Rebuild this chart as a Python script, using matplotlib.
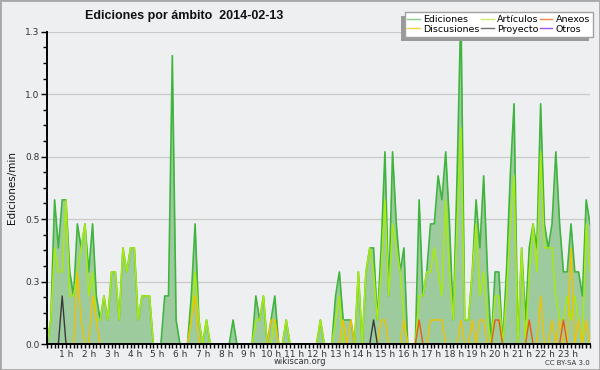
import numpy as np
import matplotlib
matplotlib.use("Agg")
import matplotlib.pyplot as plt
from matplotlib.lines import Line2D
from matplotlib.patches import Rectangle
import matplotlib.transforms as mtransforms

# ---- data: edits per minute, 10-minute bins over the day (2014-02-13) ----
minutes = np.arange(144) * 10

ediciones = [
    0.0, 0.1, 0.6, 0.4, 0.6, 0.6, 0.3, 0.2, 0.5, 0.4, 0.5, 0.3,
    0.5, 0.2, 0.1, 0.2, 0.1, 0.3, 0.3, 0.1, 0.4, 0.3, 0.4, 0.4,
    0.1, 0.2, 0.2, 0.2, 0.0, 0.0, 0.0, 0.2, 0.2, 1.2, 0.1, 0.0,
    0.0, 0.0, 0.2, 0.5, 0.1, 0.0, 0.1, 0.0, 0.0, 0.0, 0.0, 0.0,
    0.0, 0.1, 0.0, 0.0, 0.0, 0.0, 0.0, 0.2, 0.1, 0.2, 0.0, 0.1,
    0.2, 0.0, 0.0, 0.1, 0.0, 0.0, 0.0, 0.0, 0.0, 0.0, 0.0, 0.0,
    0.1, 0.0, 0.0, 0.0, 0.2, 0.3, 0.1, 0.1, 0.1, 0.0, 0.3, 0.0,
    0.3, 0.4, 0.4, 0.1, 0.4, 0.8, 0.2, 0.8, 0.5, 0.3, 0.4, 0.0,
    0.0, 0.0, 0.6, 0.2, 0.3, 0.5, 0.5, 0.7, 0.6, 0.8, 0.5, 0.1,
    0.7, 1.4, 0.1, 0.1, 0.3, 0.6, 0.4, 0.7, 0.3, 0.0, 0.3, 0.3,
    0.0, 0.3, 0.7, 1.0, 0.0, 0.4, 0.1, 0.4, 0.5, 0.4, 1.0, 0.5,
    0.4, 0.5, 0.8, 0.5, 0.3, 0.3, 0.5, 0.3, 0.3, 0.2, 0.6, 0.5,
]

articulos = [
    0.0, 0.1, 0.4, 0.3, 0.3, 0.6, 0.2, 0.2, 0.3, 0.4, 0.5, 0.2,
    0.3, 0.1, 0.1, 0.2, 0.1, 0.3, 0.3, 0.1, 0.4, 0.3, 0.4, 0.4,
    0.1, 0.2, 0.2, 0.2, 0.0, 0.0, 0.0, 0.0, 0.0, 0.0, 0.0, 0.0,
    0.0, 0.0, 0.1, 0.3, 0.1, 0.0, 0.1, 0.0, 0.0, 0.0, 0.0, 0.0,
    0.0, 0.0, 0.0, 0.0, 0.0, 0.0, 0.0, 0.1, 0.1, 0.2, 0.0, 0.0,
    0.1, 0.0, 0.0, 0.1, 0.0, 0.0, 0.0, 0.0, 0.0, 0.0, 0.0, 0.0,
    0.1, 0.0, 0.0, 0.0, 0.1, 0.2, 0.0, 0.0, 0.0, 0.0, 0.3, 0.0,
    0.3, 0.4, 0.3, 0.1, 0.3, 0.6, 0.2, 0.5, 0.4, 0.3, 0.1, 0.0,
    0.0, 0.0, 0.2, 0.2, 0.3, 0.3, 0.4, 0.3, 0.2, 0.6, 0.3, 0.1,
    0.5, 0.9, 0.1, 0.1, 0.3, 0.5, 0.2, 0.3, 0.1, 0.0, 0.2, 0.2,
    0.0, 0.2, 0.5, 0.7, 0.0, 0.4, 0.0, 0.3, 0.5, 0.3, 0.8, 0.4,
    0.4, 0.4, 0.2, 0.1, 0.1, 0.2, 0.1, 0.2, 0.1, 0.0, 0.5, 0.3,
]

discusiones = [
    0.0, 0.0, 0.0, 0.0, 0.0, 0.0, 0.0, 0.0, 0.3, 0.1, 0.0, 0.0,
    0.2, 0.1, 0.0, 0.0, 0.0, 0.0, 0.0, 0.0, 0.0, 0.0, 0.0, 0.0,
    0.0, 0.0, 0.0, 0.0, 0.0, 0.0, 0.0, 0.0, 0.0, 0.0, 0.0, 0.0,
    0.0, 0.0, 0.1, 0.2, 0.0, 0.0, 0.0, 0.0, 0.0, 0.0, 0.0, 0.0,
    0.0, 0.0, 0.0, 0.0, 0.0, 0.0, 0.0, 0.0, 0.0, 0.0, 0.0, 0.1,
    0.1, 0.0, 0.0, 0.0, 0.0, 0.0, 0.0, 0.0, 0.0, 0.0, 0.0, 0.0,
    0.0, 0.0, 0.0, 0.0, 0.0, 0.0, 0.1, 0.0, 0.1, 0.0, 0.0, 0.0,
    0.0, 0.0, 0.0, 0.0, 0.1, 0.1, 0.0, 0.0, 0.0, 0.0, 0.1, 0.0,
    0.0, 0.0, 0.0, 0.0, 0.0, 0.1, 0.1, 0.1, 0.1, 0.0, 0.0, 0.0,
    0.0, 0.1, 0.0, 0.0, 0.1, 0.0, 0.1, 0.1, 0.0, 0.0, 0.0, 0.0,
    0.0, 0.0, 0.0, 0.0, 0.0, 0.0, 0.0, 0.0, 0.0, 0.0, 0.2, 0.0,
    0.0, 0.1, 0.0, 0.1, 0.0, 0.0, 0.4, 0.0, 0.1, 0.0, 0.1, 0.0,
]

anexos = [0.0] * 98 + [0.1] + [0.0] * 19 + [0.1, 0.1] + [0.0] * 7 + [0.1] + [0.0] * 8 + [0.1] + [0.0] * 7
proyecto = [0.0] * 4 + [0.2] + [0.0] * 81 + [0.1] + [0.0] * 57
otros = [0.0] * 144

hour_labels = [f"{h} h" for h in range(1, 24)]
y_ticks = [0.0, 0.26, 0.52, 0.78, 1.04, 1.3]
y_tick_labels = ["0.0", "0.3", "0.5", "0.8", "1.0", "1.3"]

legend_names = ["Ediciones", "Discusiones", "Artículos", "Proyecto", "Anexos", "Otros"]

# ---- figure ----
BG = "#eeeff1"
fig = plt.figure(figsize=(6.0, 3.7), dpi=100, facecolor=BG)
fig.patches.append(Rectangle((0, 0), 1, 1, transform=fig.transFigure,
                             facecolor="none", edgecolor="#a8a8a8", lw=2.0))

ax = fig.add_axes([47 / 600, 26 / 370, 543 / 600, 312.3 / 370])
ax.set_facecolor(BG)

ax.fill_between(minutes, ediciones, 0, color="#9ecb9e", lw=0, zorder=2)
ax.plot(minutes, ediciones, color="#3fb43f", lw=1.2, zorder=3)
ax.plot(minutes, articulos, color="#a6ea12", lw=1.1, zorder=4)
ax.plot(minutes, discusiones, color="#f2c200", lw=1.0, zorder=5)
ax.plot(minutes, anexos, color="#ec5a14", lw=1.0, zorder=6)
ax.plot(minutes, proyecto, color="#3a3a3a", lw=1.0, zorder=6)
ax.plot(minutes, otros, color="#8a44e8", lw=1.0, zorder=6)

ax.set_xlim(0, 1430)
ax.set_ylim(0, 1.3)

for s in ["top", "right"]:
    ax.spines[s].set_visible(False)
for s in ["left", "bottom"]:
    ax.spines[s].set_color("black")
    ax.spines[s].set_linewidth(1.4)
    ax.spines[s].set_zorder(10)

ax.set_yticks(y_ticks)
ax.set_yticklabels(y_tick_labels)
ax.set_yticks(np.arange(0, 1.3001, 0.065), minor=True)
ax.set_xticks(np.arange(60, 1440, 60))
ax.set_xticklabels(hour_labels)
ax.set_xticks(np.arange(0, 1431, 10), minor=True)

ax.tick_params(axis="both", which="major", length=4, width=1, color="black",
               labelsize=6.5, labelcolor="#333333", pad=1.5)
ax.tick_params(axis="both", which="minor", length=3, width=1, color="black")
ax.tick_params(axis="x", which="major", length=3, pad=1)

offset = mtransforms.ScaledTranslation(-0.035, 0, fig.dpi_scale_trans)
for lbl in ax.get_xticklabels():
    lbl.set_transform(lbl.get_transform() + offset)

ax.yaxis.grid(True, which="major", color="#c9c9c9", lw=0.9, zorder=1)
ax.set_axisbelow(True)

# texts
fig.text(85 / 600, 1 - 16 / 370, "Ediciones por ámbito  2014-02-13",
         fontsize=9, fontweight="bold", family="Liberation Sans",
         ha="left", va="center", color="#111111")
fig.text(12 / 600, 1 - 188 / 370, "Ediciones/min", rotation=90,
         fontsize=7.5, ha="center", va="center", color="#111111")
fig.text(300 / 600, 1 - 362 / 370, "wikiscan.org", fontsize=6,
         ha="center", va="center", color="#333333")
fig.text(590 / 600, 1 - 363 / 370, "CC BY-SA 3.0", fontsize=5,
         ha="right", va="center", color="#333333")

# legend with shadow
legend_colors = ["#86d086", "#f4d24a", "#cdee6a", "#6e6e6e", "#f08650", "#9a55ee"]
handles = [Line2D([], [], color=c, lw=1.0) for c in legend_colors]
leg = fig.legend(handles, legend_names, ncol=3, loc="upper right",
                 bbox_to_anchor=(593 / 600, 1 - 12 / 370), fontsize=6.8,
                 frameon=True, fancybox=False, facecolor="white",
                 edgecolor="#a0a0a0", framealpha=1, handlelength=1.3,
                 handletextpad=0.35, columnspacing=0.2, labelspacing=0.1,
                 borderpad=0.3, borderaxespad=0)
leg.set_zorder(21)

fig.canvas.draw()
bb = leg.get_window_extent()
shadow = Rectangle((bb.x0 - 4, bb.y0 - 4), bb.width, bb.height,
                   transform=None, facecolor="#9a9a9a", edgecolor="none", zorder=20)
fig.artists.append(shadow)
shadow.set_figure(fig)

fig.savefig("out.png", dpi=100, facecolor=BG)
